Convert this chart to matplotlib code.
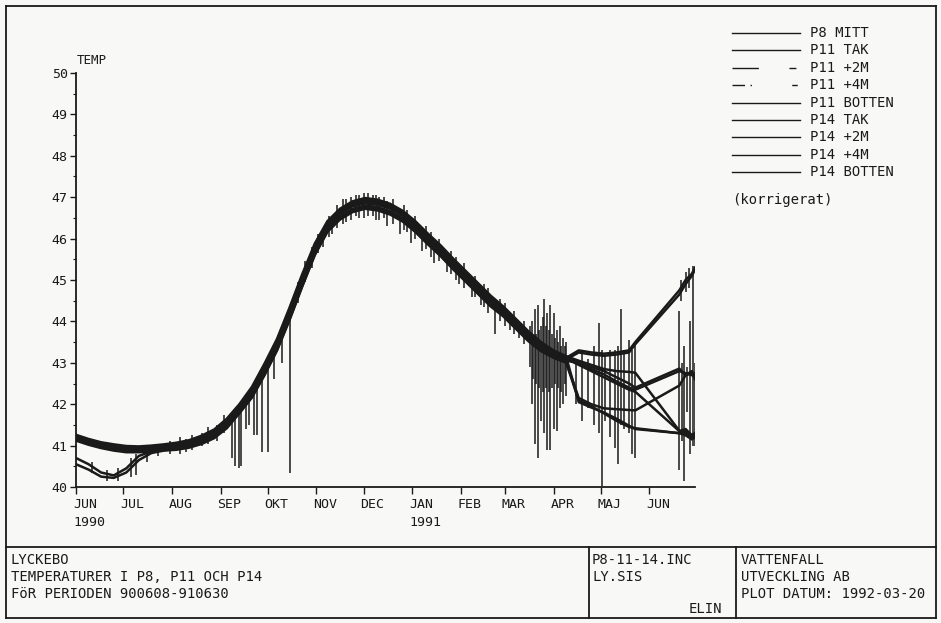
import matplotlib
matplotlib.use("Agg")
import matplotlib.pyplot as plt
from matplotlib.lines import Line2D
from matplotlib.transforms import ScaledTranslation, blended_transform_factory
from matplotlib.ticker import MultipleLocator

# ---------------- data (days since 1990-06-01) ----------------
days_main = [0, 8, 16, 24, 32, 40, 48, 56, 64, 72, 80, 88, 96, 104, 112, 120, 128, 136,
             144, 152, 160, 168, 176, 184, 192, 200, 208, 216, 224, 232, 240, 248, 256,
             264, 272, 280, 288, 296, 304, 312]
days_tail = [320, 328, 336, 344, 352, 356, 384, 388, 392, 394]

p8_mitt = [41.22, 41.12, 41.04, 40.98, 40.94, 40.93, 40.95, 40.98, 41.02, 41.08, 41.19, 41.34,
           41.60, 41.95, 42.36, 42.92, 43.52, 44.28, 45.08, 45.82, 46.36, 46.66, 46.84, 46.92,
           46.88, 46.78, 46.61, 46.36, 46.06, 45.78, 45.46, 45.16, 44.86, 44.56, 44.30, 44.00,
           43.70, 43.45, 43.26, 43.12,
           43.00, 42.90, 42.80, 42.65, 42.50, 42.40, 42.86, 42.70, 42.80, 42.65]
p11_tak = [41.14, 41.04, 40.96, 40.91, 40.86, 40.86, 40.88, 40.91, 40.94, 41.01, 41.11, 41.25,
           41.50, 41.84, 42.24, 42.78, 43.38, 44.12, 44.92, 45.68, 46.24, 46.54, 46.72, 46.80,
           46.76, 46.66, 46.49, 46.24, 45.94, 45.66, 45.34, 45.04, 44.74, 44.44, 44.20, 43.90,
           43.60, 43.35, 43.18, 43.08,
           43.25, 43.20, 43.17, 43.20, 43.25, 43.45, 44.65, 44.90, 45.10, 45.25]
p11_2m = [41.26, 41.16, 41.08, 41.03, 40.99, 40.98, 41.00, 41.03, 41.07, 41.13, 41.24, 41.39,
          41.65, 42.00, 42.42, 42.98, 43.58, 44.34, 45.14, 45.88, 46.42, 46.72, 46.90, 46.98,
          46.94, 46.84, 46.67, 46.42, 46.12, 45.84, 45.52, 45.22, 44.92, 44.62, 44.36, 44.06,
          43.76, 43.50, 43.30, 43.16,
          43.05, 42.95, 42.85, 42.80, 42.78, 42.76, 41.36, 41.30, 41.20, 41.25]
p11_4m = [41.18, 41.08, 41.00, 40.95, 40.90, 40.90, 40.92, 40.95, 40.98, 41.05, 41.15, 41.30,
          41.55, 41.90, 42.30, 42.85, 43.45, 44.20, 45.00, 45.75, 46.30, 46.60, 46.78, 46.85,
          46.82, 46.72, 46.55, 46.30, 46.00, 45.72, 45.40, 45.10, 44.80, 44.50, 44.25, 43.95,
          43.65, 43.40, 43.22, 43.10,
          42.95, 42.80, 42.65, 42.50, 42.35, 42.30, 41.35, 41.40, 41.25, 41.30]
p11_botten = [40.70, 40.55, 40.35, 40.28, 40.45, 40.75, 40.86, 40.90, 40.92, 40.97, 41.06, 41.20,
              41.45, 41.80, 42.18, 42.72, 43.32, 44.06, 44.86, 45.62, 46.18, 46.48, 46.66, 46.74,
              46.70, 46.60, 46.43, 46.18, 45.88, 45.60, 45.28, 44.98, 44.68, 44.38, 44.14, 43.84,
              43.55, 43.30, 43.14, 43.02,
              42.15, 42.00, 41.90, 41.88, 41.86, 41.85, 42.45, 42.70, 42.75, 42.60]
p14_tak = [41.20, 41.10, 41.02, 40.97, 40.92, 40.92, 40.94, 40.97, 41.00, 41.07, 41.17, 41.32,
           41.57, 41.92, 42.33, 42.88, 43.48, 44.24, 45.04, 45.78, 46.33, 46.63, 46.81, 46.88,
           46.85, 46.75, 46.58, 46.33, 46.03, 45.75, 45.43, 45.13, 44.83, 44.53, 44.28, 43.98,
           43.68, 43.42, 43.24, 43.12,
           43.30, 43.25, 43.22, 43.25, 43.30, 43.50, 44.75, 45.00, 45.15, 45.30]
p14_2m = [41.12, 41.02, 40.94, 40.88, 40.84, 40.84, 40.86, 40.89, 40.92, 40.98, 41.08, 41.22,
          41.47, 41.82, 42.22, 42.76, 43.36, 44.10, 44.90, 45.66, 46.22, 46.52, 46.70, 46.77,
          46.74, 46.64, 46.47, 46.22, 45.92, 45.64, 45.32, 45.02, 44.72, 44.42, 44.18, 43.88,
          43.58, 43.33, 43.16, 43.05,
          43.00, 42.85, 42.72, 42.55, 42.40, 42.35, 42.80, 42.75, 42.70, 42.75]
p14_4m = [41.24, 41.14, 41.06, 41.00, 40.96, 40.96, 40.98, 41.01, 41.04, 41.11, 41.21, 41.36,
          41.62, 41.97, 42.38, 42.94, 43.55, 44.30, 45.10, 45.84, 46.38, 46.68, 46.86, 46.94,
          46.90, 46.80, 46.63, 46.38, 46.08, 45.80, 45.48, 45.18, 44.88, 44.58, 44.33, 44.03,
          43.73, 43.47, 43.28, 43.14,
          42.05, 41.92, 41.80, 41.65, 41.48, 41.40, 41.30, 41.25, 41.15, 41.20]
p14_botten = [40.55, 40.42, 40.25, 40.22, 40.35, 40.65, 40.82, 40.88, 40.90, 40.95, 41.04, 41.18,
              41.42, 41.78, 42.16, 42.70, 43.30, 44.04, 44.84, 45.60, 46.16, 46.46, 46.64, 46.72,
              46.68, 46.58, 46.41, 46.16, 45.86, 45.58, 45.26, 44.96, 44.66, 44.36, 44.12, 43.82,
              43.52, 43.28, 43.12, 43.00,
              42.10, 41.95, 41.78, 41.60, 41.45, 41.42, 41.30, 41.35, 41.25, 41.30]

series_names = ["P8 MITT", "P11 TAK", "P11 +2M", "P11 +4M", "P11 BOTTEN",
                "P14 TAK", "P14 +2M", "P14 +4M", "P14 BOTTEN"]
series_values = [p8_mitt, p11_tak, p11_2m, p11_4m, p11_botten,
                 p14_tak, p14_2m, p14_4m, p14_botten]

# measurement spikes / scatter of the raw readings (day, low, high)
spike_day = [10, 20, 27, 35, 38, 45, 52, 60, 66, 70, 74, 80, 84, 90, 94,
             99, 101, 103.5, 105, 108, 110, 113, 115, 118.5, 122, 126, 131, 136,
             141, 146, 150, 154, 157, 161, 163, 166, 170, 172, 175, 178, 180, 183, 186,
             189, 191, 193, 196, 198, 202, 206, 209, 211, 213, 216, 220, 223, 226, 228,
             231, 236, 239, 242, 244, 247, 252, 254, 258, 260, 262, 267, 270, 273, 276,
             279, 282, 285,
             289, 290, 291, 292, 293, 294, 295, 296, 297, 298, 299, 300, 301, 302, 303, 304,
             305, 306, 307, 308, 309, 310, 311, 312,
             318, 322, 326, 330, 333, 335, 337, 340, 343, 345, 347, 349, 352, 354, 356,
             384, 385, 386, 387, 388, 389, 390, 391, 393, 394]
spike_lo = [40.35, 40.15, 40.15, 40.25, 40.30, 40.60, 40.75, 40.80, 40.80, 40.85, 40.90, 41.00,
            41.05, 41.10, 41.30,
            40.70, 40.50, 40.45, 40.50, 41.40, 41.50, 41.25, 41.25, 40.85, 40.85, 42.60, 43.00, 40.35,
            44.45, 44.95, 45.30, 45.65, 45.80, 46.05, 46.10, 46.25, 46.35, 46.40, 46.45, 46.55,
            46.50, 46.50, 46.55, 46.55, 46.45, 46.45, 46.50, 46.30, 46.35, 46.10, 46.20, 46.15,
            45.90, 46.00, 45.70, 45.75, 45.55, 45.40, 45.45, 45.20, 45.15, 45.00, 44.90, 44.80,
            44.60, 44.60, 44.40, 44.35, 44.20, 43.70, 44.00, 43.90, 43.80, 43.70, 43.60, 43.45,
            42.90, 42.00, 42.60, 41.05, 42.50, 40.70, 42.40, 41.60, 42.30, 41.30, 42.40, 40.90,
            42.30, 40.90, 42.40, 41.40, 42.50, 41.36, 42.40, 41.90, 42.30, 42.00, 42.50, 42.20,
            42.00, 41.60, 41.90, 41.50, 41.30, 40.03, 41.60, 41.20, 40.95, 40.56, 41.50, 41.40,
            41.30, 40.80, 40.70,
            40.40, 44.50, 41.10, 40.15, 44.70, 41.80, 44.80, 40.80, 41.00, 41.00]
spike_hi = [40.60, 40.40, 40.45, 40.70, 40.80, 40.95, 41.05, 41.10, 41.20, 41.15, 41.25, 41.30,
            41.45, 41.50, 41.75,
            41.75, 41.80, 41.85, 41.90, 42.00, 42.20, 42.30, 42.40, 42.65, 42.95, 43.30, 43.70, 44.20,
            44.95, 45.45, 45.80, 46.10, 46.20, 46.55, 46.50, 46.80, 46.95, 46.95, 47.00, 47.05,
            47.05, 47.10, 47.10, 47.05, 47.05, 47.00, 47.00, 46.90, 46.95, 46.70, 46.80, 46.70,
            46.45, 46.55, 46.20, 46.30, 46.15, 45.90, 46.00, 45.65, 45.70, 45.55, 45.35, 45.40,
            45.05, 45.10, 44.85, 44.90, 44.80, 44.50, 44.55, 44.45, 44.20, 44.25, 44.00, 44.00,
            43.90, 44.00, 43.60, 44.30, 43.70, 44.40, 43.80, 43.90, 44.10, 44.55, 43.90, 44.20,
            43.80, 44.40, 43.70, 44.20, 43.60, 43.80, 43.50, 43.90, 43.40, 43.60, 43.40, 43.50,
            43.00, 43.30, 43.10, 43.40, 43.95, 43.30, 43.20, 43.30, 43.30, 43.40, 44.30, 43.30,
            43.55, 43.30, 43.50,
            44.26, 45.00, 43.00, 43.40, 45.20, 42.90, 45.30, 44.00, 45.35, 43.00]

month_days = [0, 30, 61, 92, 122, 153, 183, 214, 245, 273, 304, 334, 365]
month_labels = ["JUN", "JUL", "AUG", "SEP", "OKT", "NOV", "DEC",
                "JAN", "FEB", "MAR", "APR", "MAJ", "JUN"]
year_days = [0, 214]
year_labels = ["1990", "1991"]

legend_dashes = [None, None, (19, 22, 5, 22), (9, 4, 1, 29, 4, 6), None, None, None, None, None]

title_lines = ["LYCKEBO", "TEMPERATURER I P8, P11 OCH P14", "FöR PERIODEN 900608-910630"]
file_lines = ["P8-11-14.INC", "LY.SIS"]
sign_text = "ELIN"
org_lines = ["VATTENFALL", "UTVECKLING AB", "PLOT DATUM: 1992-03-20"]

# ---------------- figure ----------------
W, H = 941, 623
INK = "#1a1a1a"
FONT = "DejaVu Sans Mono"
plt.rcParams["font.family"] = [FONT, "DejaVu Sans"]

fig = plt.figure(figsize=(W / 100, H / 100), dpi=100, facecolor="#f8f8f6")


def fx(px):
    return px / W


def fy(py):
    return 1 - py / H


def fline(x0, y0, x1, y1, lw=1.3, **kw):
    fig.add_artist(Line2D([fx(x0), fx(x1)], [fy(y0), fy(y1)], transform=fig.transFigure,
                          color=INK, lw=lw, **kw))


# frame and title block
fline(6, 6, 936, 6)
fline(6, 618, 936, 618)
fline(6, 6, 6, 618)
fline(936, 6, 936, 618)
fline(6, 547, 936, 547)
fline(589, 547, 589, 618)
fline(736, 547, 736, 618)

ax_l, ax_r, ax_t, ax_b = 76, 695, 73, 487
ax = fig.add_axes([fx(ax_l), fy(ax_b), (ax_r - ax_l) / W, (ax_b - ax_t) / H])
ax.set_facecolor("none")

for name, vals in zip(series_names, series_values):
    ax.plot(days_main + days_tail, vals, color=INK, lw=1.8, solid_joinstyle="round")

ax.vlines(spike_day, spike_lo, spike_hi, color=INK, lw=1.1)

ax.set_xlim(0, 394)
ax.set_ylim(40, 50)
for s in ["top", "right"]:
    ax.spines[s].set_visible(False)
for s in ["left", "bottom"]:
    ax.spines[s].set_color(INK)
    ax.spines[s].set_linewidth(1.3)

ax.set_yticks(range(40, 51))
ax.set_yticklabels([str(v) for v in range(40, 51)], fontsize=9.5, color=INK)
ax.yaxis.set_minor_locator(MultipleLocator(0.5))
ax.tick_params(axis="y", which="major", direction="out", length=4, width=1.0, pad=2, color=INK)
ax.tick_params(axis="y", which="minor", direction="out", length=2, width=0.8, color=INK)

ax.set_xticks(month_days)
ax.set_xticklabels(month_labels, fontsize=9.5, color=INK, ha="left")
ax.tick_params(axis="x", direction="out", length=5, width=1.0, pad=3, color=INK)
off = ScaledTranslation(-3 / 100, 0, fig.dpi_scale_trans)
for lbl in ax.get_xticklabels():
    lbl.set_transform(lbl.get_transform() + off)

trans = blended_transform_factory(ax.transData, ax.transAxes)
for d, t in zip(year_days, year_labels):
    ax.text(d, (ax_b - 522) / (ax_b - ax_t), t, transform=trans + off, ha="left", va="center",
            fontsize=9.5, color=INK)

fig.text(fx(77), fy(61), "TEMP", ha="left", va="center", fontsize=9, color=INK)

# legend (manual, as on the plotter sheet)
row0, drow = 33, 17.4
for i, (name, dash) in enumerate(zip(series_names, legend_dashes)):
    y = row0 + i * drow
    kw = {}
    if dash is not None:
        kw["dashes"] = dash
    fig.add_artist(Line2D([fx(732), fx(800)], [fy(y), fy(y)], transform=fig.transFigure,
                          color=INK, lw=1.0, **kw))
    fig.text(fx(810), fy(y), name, ha="left", va="center", fontsize=10, color=INK)
fig.text(fx(732), fy(200), "(korrigerat)", ha="left", va="center", fontsize=10, color=INK)

for i, t in enumerate(title_lines):
    fig.text(fx(11), fy(560 + i * 17), t, ha="left", va="center", fontsize=10, color=INK)
for i, t in enumerate(file_lines):
    fig.text(fx(592), fy(560 + i * 17), t, ha="left", va="center", fontsize=10, color=INK)
fig.text(fx(722), fy(609), sign_text, ha="right", va="center", fontsize=10, color=INK)
for i, t in enumerate(org_lines):
    fig.text(fx(741), fy(560 + i * 17), t, ha="left", va="center", fontsize=10, color=INK)

fig.savefig("out.png", dpi=100, facecolor=fig.get_facecolor())
